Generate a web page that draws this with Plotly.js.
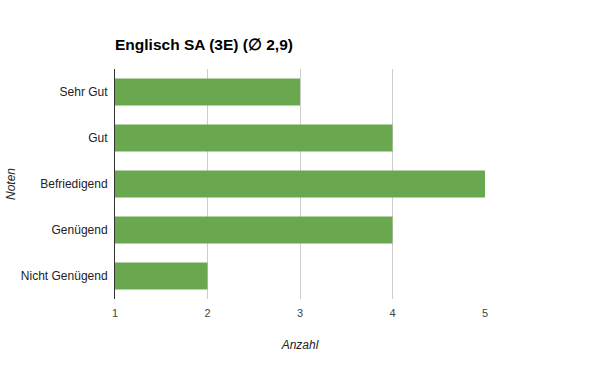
<!DOCTYPE html>
<html><head><meta charset="utf-8">
<script src="https://cdn.plot.ly/plotly-3.0.1.min.js"></script>
<style>body{margin:0;background:#fff}#c{width:600px;height:371px}</style>
</head><body><div id="c"></div>
<script>
const categories = ["Sehr Gut", "Gut", "Befriedigend", "Genügend", "Nicht Genügend"];
const counts = [3, 4, 5, 4, 2];
const xTicks = [1, 2, 3, 4, 5];

const trace = {
  type: 'bar', orientation: 'h',
  y: categories, x: counts,
  marker: {color: '#6aa84f'},
  hoverinfo: 'x+y'
};
const layout = {
  width: 600, height: 371,
  margin: {l: 115, r: 115, t: 69, b: 72},
  paper_bgcolor: '#fff', plot_bgcolor: '#fff',
  font: {family: 'Liberation Sans, Arial, sans-serif', size: 11, color: '#222'},
  title: {text: 'Englisch SA (3E) (\u2205 2,9)', x: 115/600, xanchor: 'left', y: 1 - 45/371, yanchor: 'middle',
          font: {size: 15.5, color: '#000', weight: 'bold', family: 'Liberation Sans, Arial, sans-serif'}},
  bargap: 0.41,
  showlegend: false,
  xaxis: {range: [1, 5], tickvals: xTicks, ticktext: xTicks.map(String),
          showgrid: true, gridcolor: '#cccccc', zeroline: false, showline: false,
          ticks: '', tickfont: {color: '#444', size: 11}, ticklabelstandoff: 6,
          title: {text: 'Anzahl', font: {style: 'italic', color: '#222', size: 12}, standoff: 22}},
  yaxis: {autorange: 'reversed', showline: true, linecolor: '#333', linewidth: 1,
          ticks: '', showgrid: false, tickfont: {color: '#222', size: 12}, ticklabelstandoff: 4,
          title: {text: 'Noten', font: {style: 'italic', color: '#222', size: 12}, standoff: 2}}
};
Plotly.newPlot('c', [trace], layout, {displayModeBar: false, staticPlot: true});
</script></body></html>
